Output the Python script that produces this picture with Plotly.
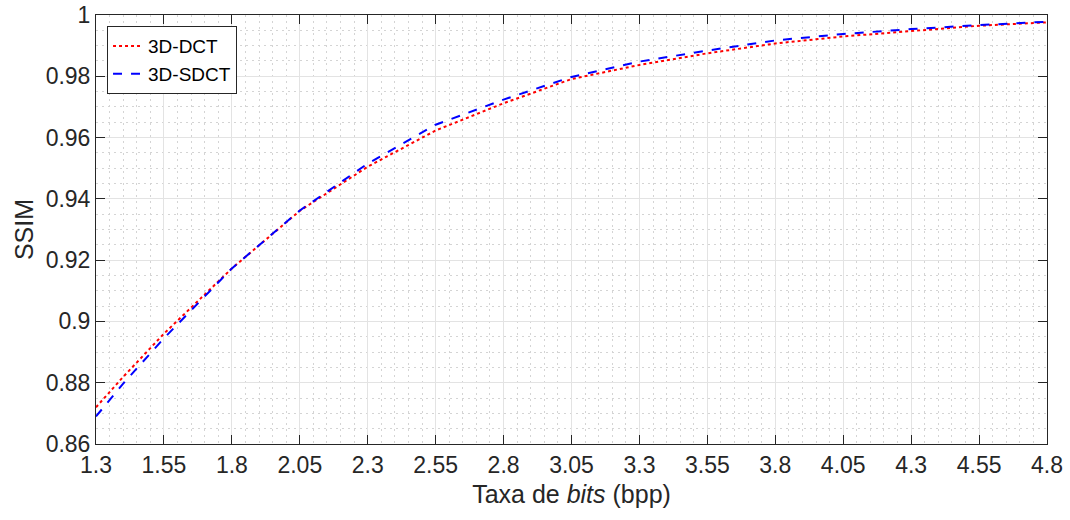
import plotly.graph_objects as go

x_rate = [1.30, 1.40, 1.55, 1.80, 2.05, 2.30, 2.55, 2.80, 3.05, 3.30, 3.55, 3.80, 4.05, 4.30, 4.55, 4.80]
ssim_dct = [0.8720, 0.8819, 0.8960, 0.9173, 0.9361, 0.9505, 0.9623, 0.9712, 0.9791, 0.9837, 0.9875, 0.9907, 0.9930, 0.9948, 0.9965, 0.9976]
ssim_sdct = [0.8690, 0.8797, 0.8945, 0.9173, 0.9362, 0.9515, 0.9642, 0.9724, 0.9798, 0.9848, 0.9884, 0.9917, 0.9938, 0.9954, 0.9967, 0.9978]

x_ticks = [1.3, 1.55, 1.8, 2.05, 2.3, 2.55, 2.8, 3.05, 3.3, 3.55, 3.8, 4.05, 4.3, 4.55, 4.8]
x_ticktext = ["1.3", "1.55", "1.8", "2.05", "2.3", "2.55", "2.8", "3.05", "3.3", "3.55", "3.8", "4.05", "4.3", "4.55", "4.8"]
y_ticks = [0.86, 0.88, 0.90, 0.92, 0.94, 0.96, 0.98, 1.0]
y_ticktext = ["0.86", "0.88", "0.9", "0.92", "0.94", "0.96", "0.98", "1"]

FONT = "Liberation Sans, Arial, Helvetica, sans-serif"
AX = "#262626"

fig = go.Figure()
fig.add_trace(go.Scatter(x=x_rate, y=ssim_dct, mode="lines", name="3D-DCT",
                         line=dict(color="#ff0000", width=2, dash="dot")))
fig.add_trace(go.Scatter(x=x_rate, y=ssim_sdct, mode="lines", name="3D-SDCT",
                         line=dict(color="#0000ff", width=2, dash="dash")))

common = dict(showline=True, linecolor=AX, linewidth=1, mirror="ticks",
              ticks="inside", ticklen=9, tickcolor=AX, tickwidth=1,
              showgrid=True, gridcolor="#e3e3e3", gridwidth=1, automargin=False,
              zeroline=False, tickfont=dict(family=FONT, size=23, color=AX))

minor_style = dict(showgrid=True, griddash="2px,4px", gridcolor="#d4d4d4", gridwidth=1, ticks="")

fig.update_xaxes(range=[1.3, 4.8], tickvals=x_ticks, ticktext=x_ticktext,
                 minor=dict(dtick=0.05, tick0=1.3, **minor_style),
                 title=dict(text="Taxa de <i>bits</i> (bpp)", font=dict(family=FONT, size=25, color=AX), standoff=8),
                 **common)
fig.update_yaxes(range=[0.86, 1.0], tickvals=y_ticks, ticktext=y_ticktext,
                 minor=dict(dtick=0.005, tick0=0.86, **minor_style),
                 title=dict(text="SSIM", font=dict(family=FONT, size=25, color=AX), standoff=4),
                 **common)

fig.update_layout(
    width=1070, height=520,
    margin=dict(l=96, r=23, t=15, b=76),
    plot_bgcolor="white", paper_bgcolor="white",
    font=dict(family=FONT, color=AX),
    legend=dict(x=0.0116, y=0.974, xanchor="left", yanchor="top",
                bgcolor="white", bordercolor=AX, borderwidth=1,
                font=dict(family=FONT, size=19, color="#000000"),
                tracegroupgap=0, itemwidth=30),
    showlegend=True,
)

fig.write_html("out.html")
